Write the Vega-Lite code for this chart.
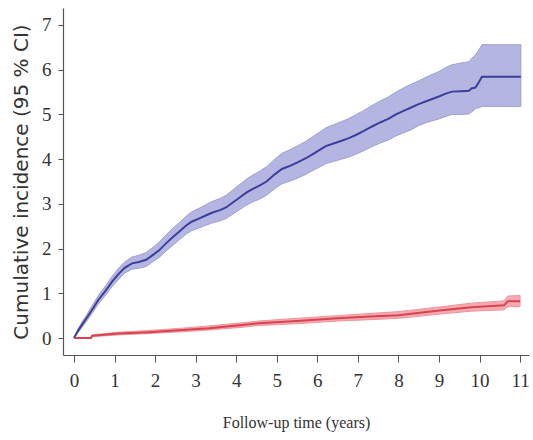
{
  "$schema": "https://vega.github.io/schema/vega-lite/v6.json",
  "width": 466,
  "height": 347,
  "autosize": {"type": "none"},
  "padding": {"left": 63, "top": 8, "right": 4, "bottom": 85},
  "background": "white",
  "config": {"view": {"stroke": null}},
  "datasets": {
    "blue": [
      {"t": 0, "est": 0, "lo": 0, "hi": 0},
      {"t": 0.1, "est": 0.16, "lo": 0.12, "hi": 0.2},
      {"t": 0.2, "est": 0.3, "lo": 0.24, "hi": 0.36},
      {"t": 0.3, "est": 0.43, "lo": 0.36, "hi": 0.5},
      {"t": 0.44, "est": 0.62, "lo": 0.54, "hi": 0.71},
      {"t": 0.6, "est": 0.85, "lo": 0.76, "hi": 0.95},
      {"t": 0.79, "est": 1.07, "lo": 0.97, "hi": 1.18},
      {"t": 0.95, "est": 1.27, "lo": 1.16, "hi": 1.39},
      {"t": 1.11, "est": 1.44, "lo": 1.32, "hi": 1.57},
      {"t": 1.25, "est": 1.57, "lo": 1.45, "hi": 1.7},
      {"t": 1.43, "est": 1.67, "lo": 1.54, "hi": 1.81},
      {"t": 1.6, "est": 1.7, "lo": 1.56, "hi": 1.85},
      {"t": 1.78, "est": 1.75, "lo": 1.6, "hi": 1.91},
      {"t": 1.95, "est": 1.86, "lo": 1.71, "hi": 2.03},
      {"t": 2.1, "est": 1.96, "lo": 1.8, "hi": 2.14},
      {"t": 2.25, "est": 2.1, "lo": 1.93, "hi": 2.29},
      {"t": 2.42, "est": 2.24, "lo": 2.06, "hi": 2.44},
      {"t": 2.6, "est": 2.38, "lo": 2.2, "hi": 2.58},
      {"t": 2.76, "est": 2.51, "lo": 2.32, "hi": 2.72},
      {"t": 2.9, "est": 2.6, "lo": 2.4, "hi": 2.82},
      {"t": 3.08, "est": 2.67, "lo": 2.46, "hi": 2.9},
      {"t": 3.25, "est": 2.74, "lo": 2.52, "hi": 2.98},
      {"t": 3.4, "est": 2.8, "lo": 2.57, "hi": 3.05},
      {"t": 3.6, "est": 2.86, "lo": 2.62, "hi": 3.12},
      {"t": 3.75, "est": 2.92, "lo": 2.67, "hi": 3.19},
      {"t": 3.9, "est": 3.02, "lo": 2.76, "hi": 3.3},
      {"t": 4.07, "est": 3.13, "lo": 2.86, "hi": 3.42},
      {"t": 4.25, "est": 3.25, "lo": 2.97, "hi": 3.55},
      {"t": 4.4, "est": 3.33, "lo": 3.04, "hi": 3.64},
      {"t": 4.56, "est": 3.4, "lo": 3.1, "hi": 3.72},
      {"t": 4.75, "est": 3.5, "lo": 3.19, "hi": 3.83},
      {"t": 4.95, "est": 3.66, "lo": 3.34, "hi": 4.0},
      {"t": 5.13, "est": 3.78, "lo": 3.45, "hi": 4.13},
      {"t": 5.3, "est": 3.84, "lo": 3.5, "hi": 4.2},
      {"t": 5.5, "est": 3.92, "lo": 3.57, "hi": 4.29},
      {"t": 5.72, "est": 4.02, "lo": 3.66, "hi": 4.4},
      {"t": 5.9, "est": 4.12, "lo": 3.75, "hi": 4.51},
      {"t": 6.05, "est": 4.2, "lo": 3.82, "hi": 4.6},
      {"t": 6.21, "est": 4.29, "lo": 3.9, "hi": 4.7},
      {"t": 6.4, "est": 4.35, "lo": 3.95, "hi": 4.77},
      {"t": 6.6, "est": 4.41, "lo": 4.0, "hi": 4.84},
      {"t": 6.78, "est": 4.47, "lo": 4.05, "hi": 4.91},
      {"t": 6.95, "est": 4.54, "lo": 4.11, "hi": 4.99},
      {"t": 7.15, "est": 4.63, "lo": 4.19, "hi": 5.09},
      {"t": 7.35, "est": 4.73, "lo": 4.28, "hi": 5.2},
      {"t": 7.55, "est": 4.82, "lo": 4.36, "hi": 5.3},
      {"t": 7.75, "est": 4.9, "lo": 4.43, "hi": 5.39},
      {"t": 7.94, "est": 5.0, "lo": 4.52, "hi": 5.5},
      {"t": 8.1, "est": 5.07, "lo": 4.58, "hi": 5.58},
      {"t": 8.3, "est": 5.15, "lo": 4.65, "hi": 5.67},
      {"t": 8.5, "est": 5.23, "lo": 4.75, "hi": 5.75},
      {"t": 8.7, "est": 5.3, "lo": 4.82, "hi": 5.84},
      {"t": 9.0, "est": 5.4, "lo": 4.9, "hi": 5.96},
      {"t": 9.15, "est": 5.46, "lo": 4.95, "hi": 6.04},
      {"t": 9.32, "est": 5.51, "lo": 5.0, "hi": 6.11},
      {"t": 9.55, "est": 5.52, "lo": 5.0, "hi": 6.15},
      {"t": 9.74, "est": 5.53, "lo": 5.01, "hi": 6.18},
      {"t": 9.8, "est": 5.58, "lo": 5.05, "hi": 6.25},
      {"t": 9.9, "est": 5.6, "lo": 5.13, "hi": 6.33},
      {"t": 9.99, "est": 5.73, "lo": 5.15, "hi": 6.45},
      {"t": 10.06, "est": 5.84, "lo": 5.18, "hi": 6.56},
      {"t": 11.02, "est": 5.84, "lo": 5.18, "hi": 6.56}
    ],
    "red": [
      {"t": 0, "est": 0, "lo": 0, "hi": 0},
      {"t": 0.42, "est": 0, "lo": -0.01, "hi": 0.01},
      {"t": 0.45, "est": 0.05, "lo": 0.03, "hi": 0.07},
      {"t": 1.1, "est": 0.1, "lo": 0.07, "hi": 0.13},
      {"t": 1.85, "est": 0.13, "lo": 0.1, "hi": 0.17},
      {"t": 2.67, "est": 0.18, "lo": 0.14, "hi": 0.22},
      {"t": 3.33, "est": 0.22, "lo": 0.18, "hi": 0.27},
      {"t": 4.15, "est": 0.29, "lo": 0.24, "hi": 0.34},
      {"t": 4.56, "est": 0.33, "lo": 0.28, "hi": 0.38},
      {"t": 5.5, "est": 0.38, "lo": 0.32, "hi": 0.44},
      {"t": 6.5, "est": 0.44, "lo": 0.38, "hi": 0.5},
      {"t": 7.3, "est": 0.48, "lo": 0.41, "hi": 0.55},
      {"t": 8.0, "est": 0.51, "lo": 0.44, "hi": 0.59},
      {"t": 9.07, "est": 0.62, "lo": 0.54, "hi": 0.7},
      {"t": 9.8, "est": 0.69, "lo": 0.6, "hi": 0.78},
      {"t": 10.6, "est": 0.73, "lo": 0.63, "hi": 0.83},
      {"t": 10.7, "est": 0.82, "lo": 0.7, "hi": 0.94},
      {"t": 11.0, "est": 0.82, "lo": 0.7, "hi": 0.95}
    ]
  },
  "encoding": {
    "x": {
      "field": "t", "type": "quantitative",
      "scale": {"domain": [-0.27, 11.22], "nice": false, "zero": false},
      "axis": {
        "values": [0,1,2,3,4,5,6,7,8,9,10,11],
        "title": "Follow-up time (years)",
        "grid": false,
        "domainColor": "#555", "domainWidth": 1.2,
        "tickColor": "#555", "tickSize": 7,
        "labelFont": "Liberation Serif", "labelFontSize": 19, "labelColor": "#333",
        "labelPadding": 9,
        "titleFont": "Liberation Serif", "titleFontSize": 16, "titleFontWeight": "normal", "titleColor": "#333",
        "titlePadding": 24
      }
    }
  },
  "layer": [
    {
      "data": {"name": "blue"},
      "mark": {"type": "area", "fill": "#b5b5e2", "stroke": "#a0a0d2", "strokeWidth": 1},
      "encoding": {
        "y": {"field": "lo", "type": "quantitative",
          "scale": {"domain": [-0.38, 7.38], "nice": false, "zero": false},
          "axis": {
            "values": [0,1,2,3,4,5,6,7],
            "title": "Cumulative incidence (95 % CI)",
            "grid": false,
            "domainColor": "#555", "domainWidth": 1.2,
            "tickColor": "#555", "tickSize": 5,
            "labelFont": "Liberation Serif", "labelFontSize": 19, "labelColor": "#333",
            "labelPadding": 7,
            "titleFont": "DejaVu Sans", "titleFontSize": 20, "titleFontWeight": "normal", "titleColor": "#333",
            "titlePadding": 10
          }
        },
        "y2": {"field": "hi"}
      }
    },
    {
      "data": {"name": "blue"},
      "mark": {"type": "line", "color": "#3b3f9c", "strokeWidth": 2},
      "encoding": {"y": {"field": "est", "type": "quantitative"}}
    },
    {
      "data": {"name": "red"},
      "mark": {"type": "area", "fill": "#f5aab1", "stroke": "#ef949c", "strokeWidth": 1},
      "encoding": {
        "y": {"field": "lo", "type": "quantitative"},
        "y2": {"field": "hi"}
      }
    },
    {
      "data": {"name": "red"},
      "mark": {"type": "line", "color": "#d8434f", "strokeWidth": 2},
      "encoding": {"y": {"field": "est", "type": "quantitative"}}
    }
  ]
}
